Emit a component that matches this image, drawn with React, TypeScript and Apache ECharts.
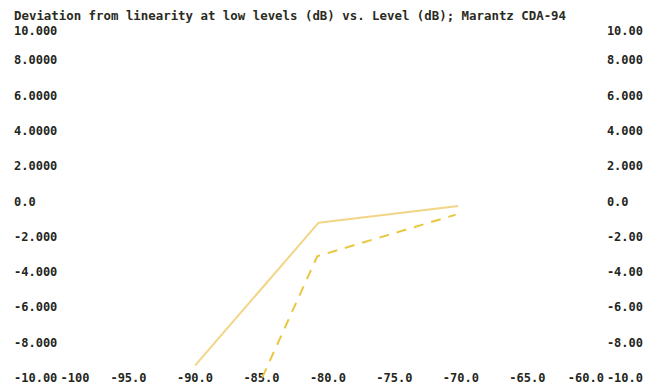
import React, { useEffect, useRef } from "react";
import * as echarts from "echarts";

const titleText = "Deviation from linearity at low levels (dB) vs. Level (dB); Marantz CDA-94";
const xTicks = [-100, -95, -90, -85, -80, -75, -70, -65, -60];
const xTickLabels = ["-100", "-95.0", "-90.0", "-85.0", "-80.0", "-75.0", "-70.0", "-65.0", "-60.0"];
const yTicks = [-10, -8, -6, -4, -2, 0, 2, 4, 6, 8, 10];
const yLeftLabels = ["-10.00", "-8.000", "-6.000", "-4.000", "-2.000", "0.0", "2.0000", "4.0000", "6.0000", "8.0000", "10.000"];
const yRightLabels = ["-10.0", "-8.00", "-6.00", "-4.00", "-2.00", "0.0", "2.000", "4.000", "6.000", "8.000", "10.00"];

const solidLevels = [-90, -80.7, -70.2];
const solidDeviation = [-9.3, -1.2, -0.25];
const dashedLevels = [-85.5, -80.8, -70.4];
const dashedDeviation = [-10.9, -3.1, -0.75];

const FONT = "DejaVu Sans Mono";

export default function App() {
  const ref = useRef<HTMLDivElement>(null);
  useEffect(() => {
    if (!ref.current) return;
    const chart = echarts.init(ref.current, null, { renderer: "svg" });
    const lab = (arr: number[], labels: string[]) => (v: number) => {
      const i = arr.findIndex((t) => Math.abs(t - v) < 1e-6);
      return i >= 0 ? labels[i] : "";
    };
    const labelStyle = {
      fontFamily: FONT,
      fontWeight: "bold" as const,
      fontSize: 12,
      lineHeight: 11,
      color: "#24261c",
    };
    const xFmt = (v: number) => {
      const s = lab(xTicks, xTickLabels)(v);
      if (v === xTicks[0]) return "{first|" + s + "}";
      if (v === xTicks[xTicks.length - 1]) return "{last|" + s + "}";
      return s;
    };
    const yFmt = (labels: string[]) => (v: number) => {
      const s = lab(yTicks, labels)(v);
      if (v === yTicks[yTicks.length - 1]) return "{top|" + s + "}";
      return s;
    };
    chart.setOption({
      animation: false,
      backgroundColor: "#ffffff",
      title: {
        text: titleText,
        left: 6,
        top: 2,
        padding: 0,
        textStyle: { ...labelStyle, fontSize: 12.4, lineHeight: 11, color: "#2a2b22" },
      },
      grid: { left: 54, right: 46, top: 17, bottom: 6, containLabel: false },
      xAxis: {
        type: "value",
        min: -100,
        max: -60,
        interval: 5,
        axisLine: { show: false },
        axisTick: { show: false },
        splitLine: { show: false },
        axisLabel: {
          ...labelStyle,
          margin: 0,
          verticalAlign: "middle",
          formatter: xFmt,
          rich: {
            first: { ...labelStyle, padding: [0, 0, 0, 26] },
            last: { ...labelStyle, padding: [0, 16, 0, 0] },
          },
        },
      },
      yAxis: [
        {
          type: "value",
          min: -10,
          max: 10,
          interval: 2,
          position: "left",
          axisLine: { show: false },
          axisTick: { show: false },
          splitLine: { show: false },
          axisLabel: {
            ...labelStyle,
            align: "left",
            margin: 48,
            formatter: yFmt(yLeftLabels),
            rich: { top: { ...labelStyle, padding: [12, 0, 0, 0] } },
          },
        },
        {
          type: "value",
          min: -10,
          max: 10,
          interval: 2,
          position: "right",
          axisLine: { show: false },
          axisTick: { show: false },
          splitLine: { show: false },
          axisLabel: {
            ...labelStyle,
            align: "left",
            margin: 13,
            formatter: yFmt(yRightLabels),
            rich: { top: { ...labelStyle, padding: [12, 0, 0, 0] } },
          },
        },
      ],
      series: [
        {
          type: "line",
          data: solidLevels.map((x, i) => [x, solidDeviation[i]]),
          showSymbol: false,
          clip: false,
          lineStyle: { color: "#f2d586", width: 2 },
        },
        {
          type: "line",
          data: dashedLevels.map((x, i) => [x, dashedDeviation[i]]),
          showSymbol: false,
          clip: false,
          lineStyle: { color: "#e8c842", width: 2, type: [10, 8] },
        },
      ],
    });
    return () => chart.dispose();
  }, []);
  return <div ref={ref} style={{ width: 638, height: 376 }} />;
}
